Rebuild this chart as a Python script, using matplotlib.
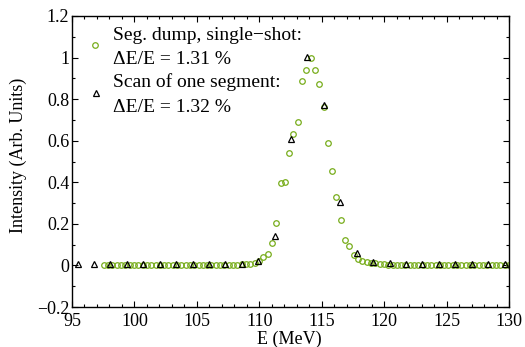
import matplotlib
matplotlib.use("Agg")
import matplotlib.pyplot as plt

plt.rcParams["font.family"] = ["Liberation Serif", "DejaVu Serif"]
plt.rcParams["mathtext.fontset"] = "stix"

# Single-shot spectrum from the segmented dump (energy in MeV, normalised intensity)
shot_E = [
    97.55, 97.89, 98.24, 98.58, 98.93, 99.27, 99.62, 99.96, 100.31, 100.65,
    101.00, 101.34, 101.69, 102.03, 102.38, 102.72, 103.07, 103.41, 103.76, 104.10,
    104.45, 104.79, 105.14, 105.48, 105.83, 106.17, 106.52, 106.86, 107.21, 107.55,
    107.90, 108.24, 108.59, 108.93, 109.28, 109.63, 109.97, 110.32, 110.66, 111.01,
    111.35, 111.70, 112.04, 112.39, 112.73, 113.08, 113.42, 113.77, 114.11, 114.46,
    114.80, 115.15, 115.49, 115.84, 116.18, 116.53, 116.87, 117.22, 117.56, 117.91,
    118.25, 118.60, 118.94, 119.29, 119.63, 119.98, 120.32, 120.67, 121.01, 121.36,
    121.70, 122.05, 122.39, 122.74, 123.08, 123.43, 123.77, 124.12, 124.46, 124.81,
    125.15, 125.50, 125.84, 126.19, 126.53, 126.88, 127.22, 127.57, 127.91, 128.26,
    128.60, 128.95, 129.29, 129.64, 129.98,
]
shot_I = [
    0.002, 0.002, 0.002, 0.002, 0.002, 0.002, 0.002, 0.002, 0.002, 0.002,
    0.002, 0.002, 0.002, 0.002, 0.002, 0.002, 0.002, 0.002, 0.002, 0.002,
    0.002, 0.002, 0.002, 0.002, 0.002, 0.002, 0.002, 0.002, 0.002, 0.003,
    0.003, 0.004, 0.005, 0.006, 0.008, 0.012, 0.022, 0.039, 0.056, 0.109,
    0.204, 0.396, 0.402, 0.543, 0.633, 0.690, 0.889, 0.940, 1.000, 0.940,
    0.873, 0.760, 0.588, 0.452, 0.329, 0.217, 0.120, 0.095, 0.050, 0.031,
    0.023, 0.018, 0.014, 0.010, 0.007, 0.005, 0.004, 0.003, 0.003, 0.003,
    0.003, 0.003, 0.003, 0.003, 0.003, 0.003, 0.003, 0.003, 0.003, 0.003,
    0.003, 0.003, 0.003, 0.003, 0.003, 0.003, 0.003, 0.003, 0.003, 0.003,
    0.003, 0.003, 0.003, 0.003, 0.003,
]

# Energy scan of a single segment
scan_E = [
    95.45, 96.77, 98.08, 99.40, 100.71, 102.03, 103.34, 104.66, 105.97, 107.29,
    108.60, 109.92, 111.23, 112.55, 113.86, 115.18, 116.49, 117.81, 119.12, 120.44,
    121.75, 123.07, 124.38, 125.70, 127.01, 128.33, 129.64,
]
scan_I = [
    0.006, 0.006, 0.005, 0.005, 0.005, 0.005, 0.005, 0.005, 0.005, 0.005,
    0.006, 0.020, 0.143, 0.607, 1.003, 0.772, 0.306, 0.058, 0.018, 0.012,
    0.008, 0.007, 0.006, 0.006, 0.006, 0.006, 0.006,
]

legend_lines = [
    "Seg. dump, single\u2212shot:",
    "\u0394E/E = 1.31 %",
    "Scan of one segment:",
    "\u0394E/E = 1.32 %",
]

green = "#78ad1c"

fig = plt.figure(figsize=(5.25, 3.47), dpi=100)
ax = fig.add_axes([72 / 525, 40 / 347, 437 / 525, 291 / 347])

ax.plot(shot_E, shot_I, linestyle="none", marker="o", markersize=4.0,
        markerfacecolor="none", markeredgecolor=green, markeredgewidth=0.9)
ax.plot(scan_E, scan_I, linestyle="none", marker="^", markersize=4.6,
        markerfacecolor="none", markeredgecolor="black", markeredgewidth=0.9)

ax.set_xlim(95, 130)
ax.set_ylim(-0.2, 1.2)
ax.set_xticks([95, 100, 105, 110, 115, 120, 125, 130])
ax.set_xticks(range(95, 131), minor=True)
ax.set_yticks([-0.2, 0, 0.2, 0.4, 0.6, 0.8, 1.0, 1.2])
ax.set_yticklabels(["\u22120.2", "0", "0.2", "0.4", "0.6", "0.8", "1", "1.2"])
ax.set_yticks([i / 10 for i in range(-2, 13)], minor=True)

ax.tick_params(which="both", direction="in", top=True, right=True,
               labelsize=13, width=0.8, pad=2)
ax.tick_params(axis="x", which="major", pad=4.5)
ax.tick_params(which="major", length=4)
ax.tick_params(which="minor", length=2)
for s in ax.spines.values():
    s.set_linewidth(1.0)

ax.set_ylabel("Intensity (Arb. Units)", fontsize=13)
ax.yaxis.set_label_coords(-0.104, 0.52)
fig.text(289 / 525, 1 - 339 / 347, "E (MeV)", ha="center", va="center", fontsize=13)

# Legend entries: marker plus two text lines each
ax.plot([0.0533], [0.8993], transform=ax.transAxes, linestyle="none", marker="o",
        markersize=4.0, markerfacecolor="none", markeredgecolor=green,
        markeredgewidth=0.9, clip_on=False)
ax.plot([0.0542], [0.7344], transform=ax.transAxes, linestyle="none", marker="^",
        markersize=4.6, markerfacecolor="none", markeredgecolor="black",
        markeredgewidth=0.9, clip_on=False)
for txt, yb in zip(legend_lines, [0.9175, 0.8351, 0.7550, 0.6711]):
    ax.text(0.0945, yb, txt, transform=ax.transAxes, fontsize=14,
            ha="left", va="baseline")

fig.savefig("out.png", dpi=100)
